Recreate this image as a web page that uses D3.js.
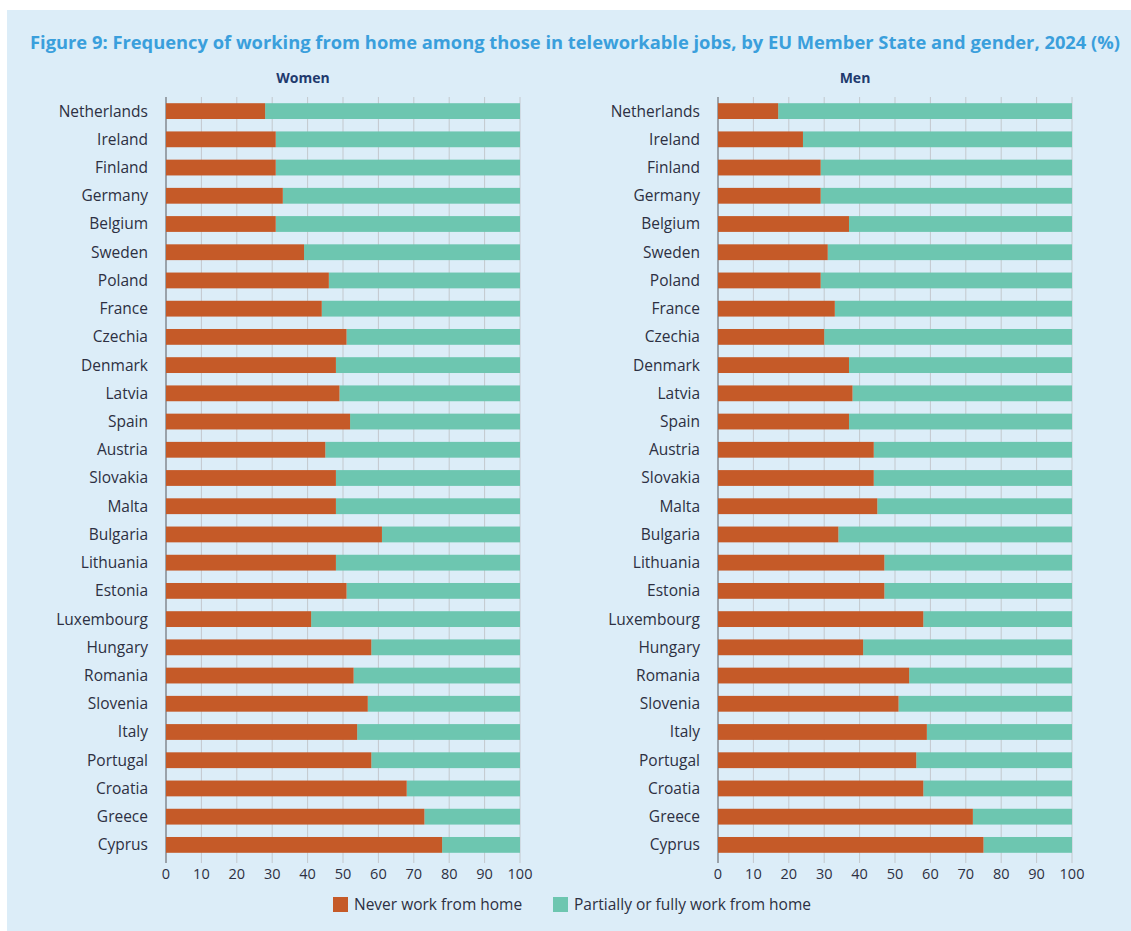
<!DOCTYPE html>
<html>
<head>
<meta charset="utf-8">
<script src="https://cdn.jsdelivr.net/npm/d3@7"></script>
<style>
  body { margin: 0; background: #ffffff; }
  text { font-family: "Open Sans", "Noto Sans", sans-serif; }
</style>
</head>
<body>
<div id="chart"></div>
<script>
var countries = ["Netherlands", "Ireland", "Finland", "Germany", "Belgium", "Sweden", "Poland", "France",
  "Czechia", "Denmark", "Latvia", "Spain", "Austria", "Slovakia", "Malta", "Bulgaria", "Lithuania",
  "Estonia", "Luxembourg", "Hungary", "Romania", "Slovenia", "Italy", "Portugal", "Croatia", "Greece", "Cyprus"]

// share who never work from home (%), the rest is partially or fully
var women_never = [28, 31, 31, 33, 31, 39, 46, 44, 51, 48, 49, 52, 45, 48, 48, 61, 48, 51, 41, 58, 53, 57, 54, 58, 68, 73, 78]
var men_never = [17, 24, 29, 29, 37, 31, 29, 33, 30, 37, 38, 37, 44, 44, 45, 34, 47, 47, 58, 41, 54, 51, 59, 56, 58, 72, 75]

var series = ["Never work from home", "Partially or fully work from home"]
var colors = ["#c55a28", "#6dc6b0"]
var ticks = [0, 10, 20, 30, 40, 50, 60, 70, 80, 90, 100]

var W = 1131, H = 931
var ink = "#2d3042"

var svg = d3.select("#chart").append("svg")
    .attr("width", W)
    .attr("height", H)

svg.append("rect")
    .attr("x", 7).attr("y", 10)
    .attr("width", W - 7).attr("height", H - 10)
    .attr("fill", "#dcedf8")

svg.append("text")
    .attr("x", 30).attr("y", 49)
    .attr("textLength", 1090)
    .attr("lengthAdjust", "spacingAndGlyphs")
    .style("font-size", "17px")
    .style("font-weight", "bold")
    .attr("fill", "#3a9fdc")
    .text("Figure 9: Frequency of working from home among those in teleworkable jobs, by EU Member State and gender, 2024 (%)")

var y = d3.scaleBand()
    .domain(countries)
    .range([97, 859])
    .paddingInner(0.44)
    .paddingOuter(0.22)

function panel(title, values, x0, x1, labelX, titleX) {
  var x = d3.scaleLinear().domain([0, 100]).range([x0, x1])
  var g = svg.append("g")

  g.append("text")
      .attr("x", titleX)
      .attr("y", 83)
      .attr("text-anchor", "middle")
      .style("font-size", "14px")
      .style("font-weight", "bold")
      .attr("fill", "#1f3a6e")
      .text(title)

  // grid
  g.selectAll(".grid").data(ticks).enter().append("line")
      .attr("x1", d => x(d)).attr("x2", d => x(d))
      .attr("y1", 97).attr("y2", 863)
      .attr("stroke", d => d == 0 ? "#8a8f96" : "#c3c8cd")
      .attr("stroke-width", d => d == 0 ? 1.6 : 1)

  var rows = g.selectAll(".row").data(countries).enter().append("g")

  rows.append("rect")
      .attr("x", (d, i) => x(values[i]))
      .attr("y", d => y(d))
      .attr("width", (d, i) => x(100) - x(values[i]))
      .attr("height", y.bandwidth())
      .attr("fill", colors[1])

  rows.append("rect")
      .attr("x", x(0))
      .attr("y", d => y(d))
      .attr("width", (d, i) => x(values[i]) - x(0))
      .attr("height", y.bandwidth())
      .attr("fill", colors[0])

  rows.append("text")
      .attr("x", labelX)
      .attr("y", d => y(d) + y.bandwidth() / 2)
      .attr("dy", "0.35em")
      .attr("text-anchor", "end")
      .style("font-size", "15.5px")
      .style("font-weight", 500)
      .attr("fill", ink)
      .text(d => d)

  g.selectAll(".tick_label").data(ticks).enter().append("text")
      .attr("x", d => x(d))
      .attr("y", 879)
      .attr("text-anchor", "middle")
      .style("font-size", "14.5px")
      .style("font-weight", 500)
      .attr("fill", ink)
      .text(d => d)
}

panel("Women", women_never, 166, 520, 148, 303)
panel("Men", men_never, 718, 1072, 700, 855)

// legend
var legend = svg.append("g")
var lx = [333, 553]
series.forEach(function(s, i) {
  legend.append("rect")
      .attr("x", lx[i]).attr("y", 897)
      .attr("width", 15).attr("height", 15)
      .attr("fill", colors[i])
  legend.append("text")
      .attr("x", lx[i] + 21).attr("y", 905)
      .attr("dy", "0.35em")
      .style("font-size", "15.5px")
      .style("font-weight", 500)
      .attr("fill", ink)
      .text(s)
})
</script>
</body>
</html>
